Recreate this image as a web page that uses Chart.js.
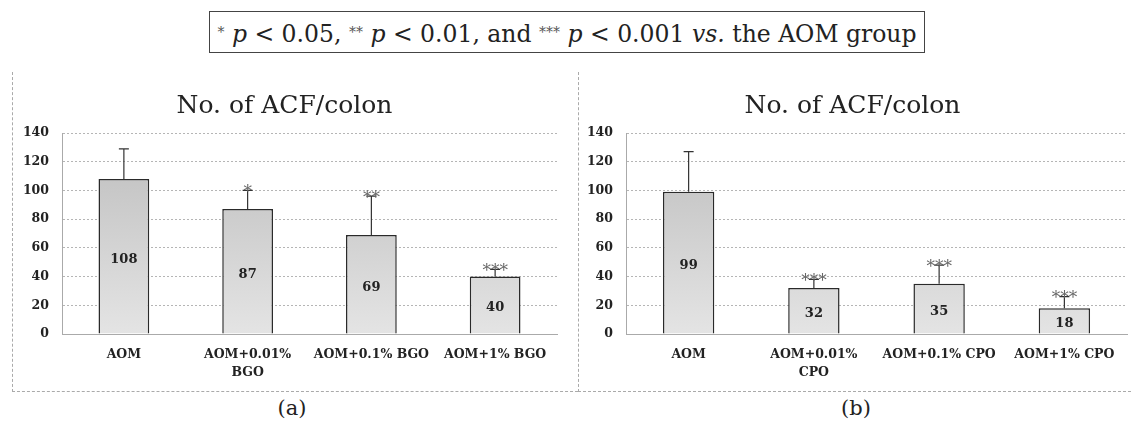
<!DOCTYPE html>
<html>
<head>
<title>No. of ACF/colon</title>
<script src="https://cdn.jsdelivr.net/npm/chart.js"></script>
<style>
body { margin: 0; background: #fff; }
#wrap { position: relative; width: 1131px; height: 428px; font-family: 'DejaVu Serif', 'Liberation Serif', serif; color: #222; }
#note { position: absolute; left: 209px; top: 11px; width: 716px; height: 42px; border: 1px solid #444;
        box-sizing: border-box; text-align: center; line-height: 40px; font-size: 23.5px; white-space: nowrap;
        font-family: 'DejaVu Serif', 'Liberation Serif', serif; }
#note .st { font-size: 14px; vertical-align: 5px; color: #555; }
.panel { position: absolute; top: 72px; height: 320px; border-left: 1px dashed #aaa; border-bottom: 1px dashed #aaa; box-sizing: border-box; }
.tag { position: absolute; top: 396px; font-size: 21px; width: 60px; text-align: center; font-family: 'DejaVu Serif', serif; }
canvas { position: absolute; }
</style>
</head>
<body>
<div id="wrap">
  <div id="note"><span class="st">*</span> <i>p</i> &lt; 0.05, <span class="st">**</span> <i>p</i> &lt; 0.01, and <span class="st">***</span> <i>p</i> &lt; 0.001 <i>vs.</i> the AOM group</div>
  <div class="panel" style="left:12px;width:566px;"></div>
  <div class="panel" style="left:578px;width:553px;"></div>
  <canvas id="chartA" width="566" height="320" style="left:12px;top:72px;"></canvas>
  <canvas id="chartB" width="553" height="320" style="left:578px;top:72px;"></canvas>
  <div class="tag" style="left:262px;">(a)</div>
  <div class="tag" style="left:826px;">(b)</div>
</div>

<script>
// panel (a)
const labelsA = ['AOM', ['AOM+0.01%', 'BGO'], 'AOM+0.1% BGO', 'AOM+1% BGO'];
const valuesA = [108, 87, 69, 40];
const errorsA = [21, 13, 27, 5];
const starsA = ['', '*', '**', '***'];

// panel (b)
const labelsB = ['AOM', ['AOM+0.01%', 'CPO'], 'AOM+0.1% CPO', 'AOM+1% CPO'];
const valuesB = [99, 32, 35, 18];
const errorsB = [28, 6, 13, 8];
const starsB = ['', '***', '***', '***'];

const yMax = 140;
const yStep = 20;

const serif = "'DejaVu Serif', serif";

// error bars, significance stars and value labels
const extras = {
    id: 'extras',
    afterDatasetsDraw(chart, args, opts) {
        const ctx = chart.ctx;
        const y = chart.scales.y;
        const meta = chart.getDatasetMeta(0);
        const vals = chart.data.datasets[0].data;
        ctx.save();
        meta.data.forEach(function(bar, i) {
            const top = y.getPixelForValue(vals[i] + opts.errors[i]);
            // error bar (upper half only)
            ctx.strokeStyle = '#333';
            ctx.lineWidth = 1.2;
            ctx.beginPath();
            ctx.moveTo(bar.x, bar.y);
            ctx.lineTo(bar.x, top);
            ctx.moveTo(bar.x - 5, top);
            ctx.lineTo(bar.x + 5, top);
            ctx.stroke();
            // stars
            if (opts.stars[i]) {
                ctx.fillStyle = '#666';
                ctx.font = '17px ' + serif;
                ctx.textAlign = 'center';
                ctx.textBaseline = 'middle';
                ctx.fillText(opts.stars[i], bar.x, top + 2);
            }
            // value label
            ctx.fillStyle = '#222';
            ctx.font = 'bold 13px ' + serif;
            ctx.textAlign = 'center';
            ctx.textBaseline = 'middle';
            ctx.fillText(vals[i], bar.x, (bar.y + bar.base) / 2 + 3);
        });
        ctx.restore();
    }
};

function barFill(context) {
    const chart = context.chart;
    const area = chart.chartArea;
    if (!area) return '#c8c8c8';
    const g = chart.ctx.createLinearGradient(0, area.top, 0, area.bottom);
    g.addColorStop(0, '#bdbdbd');
    g.addColorStop(1, '#e4e4e4');
    return g;
}

function makeChart(id, labels, values, errors, stars, yWidth, padRight) {
    new Chart(document.getElementById(id), {
        type: 'bar',
        data: {
            labels: labels,
            datasets: [{
                data: values,
                backgroundColor: barFill,
                borderColor: '#2a2a2a',
                borderWidth: 1.5,
                barPercentage: 0.41,
                categoryPercentage: 1
            }]
        },
        options: {
            responsive: false,
            animation: false,
            devicePixelRatio: 1,
            layout: { padding: { left: 0, right: padRight, top: 0, bottom: 0 } },
            scales: {
                x: {
                    grid: { display: false, drawTicks: false },
                    border: { display: true, color: '#aaa', dash: [2, 2] },
                    ticks: {
                        color: '#222', maxRotation: 0, autoSkip: false, padding: 12,
                        font: { family: serif, size: 12.5, weight: 'bold', lineHeight: 1.45 }
                    },
                    afterFit: function(scale) { scale.height = 58; }
                },
                y: {
                    min: 0, max: yMax,
                    grid: { color: '#b5b5b5', drawTicks: false },
                    border: { display: true, color: '#aaa', dash: [2, 2] },
                    ticks: {
                        stepSize: yStep, color: '#222', padding: 13,
                        font: { family: serif, size: 12.5, weight: 'bold' }
                    },
                    afterFit: function(scale) { scale.width = yWidth; }
                }
            },
            plugins: {
                legend: { display: false },
                tooltip: { enabled: false },
                title: {
                    display: true,
                    text: 'No. of ACF/colon',
                    color: '#222',
                    font: { family: serif, size: 25, weight: 'normal' },
                    padding: { top: 19, bottom: 12 }
                },
                extras: { errors: errors, stars: stars }
            }
        },
        plugins: [extras]
    });
}

// dotted grid lines
Chart.defaults.scale.grid.borderDash = [2, 2];

document.addEventListener('DOMContentLoaded', function() {
    makeChart('chartA', labelsA, valuesA, errorsA, starsA, 50, 21);
    makeChart('chartB', labelsB, valuesB, errorsB, starsB, 48, 4);
});
</script>
</body>
</html>
